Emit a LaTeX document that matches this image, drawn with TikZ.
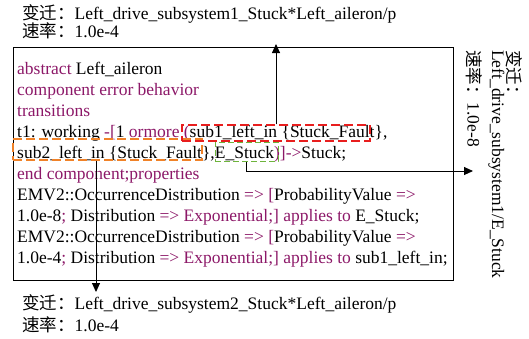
\documentclass[tikz,border=0pt]{standalone}
\usepackage{fontspec}
\setmainfont{Liberation Serif}
\newfontfamily\cjk{Noto Sans CJK SC}
\usetikzlibrary{arrows.meta}
\definecolor{kwcol}{RGB}{140,24,104}
\definecolor{redbox}{RGB}{232,30,30}
\definecolor{orangebox}{RGB}{240,130,40}
\definecolor{greenbox}{RGB}{110,180,60}
\newcommand\kwd[1]{\textcolor{kwcol}{#1}}
\begin{document}
\begin{tikzpicture}[x=1pt,y=-1pt,
  txt/.style={anchor=base west, inner sep=0pt, font=\fontsize{17.5}{21}\selectfont},
  frame/.style={draw=black, line width=0.9pt, inner sep=0pt},
  hl/.style={draw=#1, dashed, dash pattern=on 9pt off 4pt, line width=1.2pt, inner sep=0pt},
  arr/.style={draw=black, line width=0.9pt, -{Triangle[length=9pt,width=8pt]}}
]
\useasboundingbox (0,0) rectangle (529,338);

% component listing frame
\node[frame, minimum width=440pt, minimum height=233pt] (main) at (233,163.5) {};

% transition labels above and below
\node[txt] (t1) at (22,19) {{\cjk 变迁：}Left\_drive\_subsystem1\_Stuck*Left\_aileron/p};
\node[txt] (t2) at (22,37) {{\cjk 速率：}1.0e-4};
\node[txt] (b1) at (22,309) {{\cjk 变迁：}Left\_drive\_subsystem2\_Stuck*Left\_aileron/p};
\node[txt] (b2) at (22,331) {{\cjk 速率：}1.0e-4};

% transition label on the right, set vertically
\node[txt, rotate=-90] (r1) at (507.5,50) {{\cjk 变迁：}};
\node[txt, rotate=-90] (r2) at (492,50) {Left\_drive\_subsystem1/E\_Stuck};
\node[txt, rotate=-90] (r3) at (467.5,50) {{\cjk 速率：}1.0e-8};

% AADL error model listing
\node[txt] (l1) at (17,74) {\kwd{abstract} Left\_aileron};
\node[txt] (l2) at (17,95) {\kwd{component error behavior}};
\node[txt] (l3) at (17,116) {\kwd{transitions}};
\node[txt] (l4) at (17,137) {t1: working \kwd{-[}1 \kwd{ormore (}sub1\_left\_in \{Stuck\_Fault\},};
\node[txt] (l5) at (17,158) {sub2\_left\_in \{Stuck\_Fault\},E\_Stuck\kwd{)]->}Stuck;};
\node[txt] (l6) at (17,179) {\kwd{end component;properties}};
\node[txt] (l7) at (17,200) {EMV2::OccurrenceDistribution \kwd{=> [}ProbabilityValue \kwd{=>}};
\node[txt] (l8) at (17,221) {1.0e-8\kwd{;} Distribution \kwd{=> Exponential;] applies to} E\_Stuck;};
\node[txt] (l9) at (17,242) {EMV2::OccurrenceDistribution \kwd{=> [}ProbabilityValue \kwd{=>}};
\node[txt] (l10) at (17,263) {1.0e-4\kwd{;} Distribution \kwd{=> Exponential;] applies to} sub1\_left\_in;};

% highlighted event groups
\node[hl=orangebox, minimum width=189pt, minimum height=21pt] (ob) at (107.5,149.5) {};
\node[hl=redbox, minimum width=188pt, minimum height=16pt] (rb) at (276,133) {};
\node[hl=greenbox, dash pattern=on 6pt off 3pt, line width=1pt, minimum width=63pt, minimum height=19pt] (gb) at (246.5,151.5) {};

% links from highlighted events to their transition labels
\coordinate (upend) at (276,44);
\coordinate (rightend) at (473,171);
\coordinate (downend) at (96,292);
\draw[arr] (rb.north) -- (upend);
\draw[arr] (gb.south) |- (rightend);
\draw[arr] (ob.south -| downend) -- (downend);
\end{tikzpicture}
\end{document}
